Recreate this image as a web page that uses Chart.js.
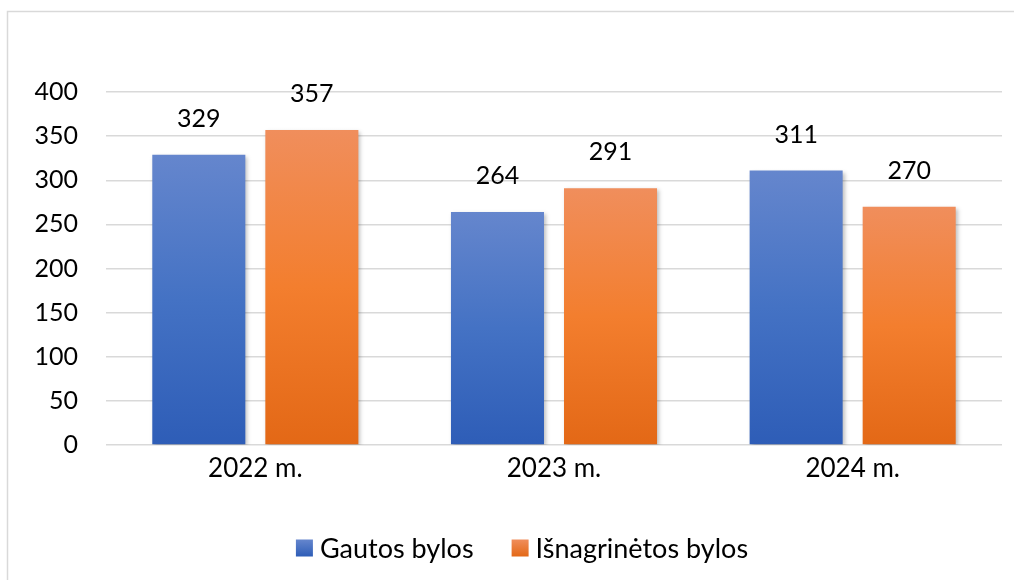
<!DOCTYPE html>
<html><head><meta charset="utf-8">
<script src="https://cdn.jsdelivr.net/npm/chart.js@4/dist/chart.umd.min.js"></script>
<style>html,body{margin:0;padding:0;background:#fff;}#wrap{width:1014px;height:580px;position:relative;}</style>
</head><body><div id="wrap"><canvas id="c" width="1014" height="580"></canvas></div>
<script>
const categories = ["2022 m.", "2023 m.", "2024 m."];
const gautos = [329, 264, 311];
const isnagrinetos = [357, 291, 270];
const seriesNames = ["Gautos bylos", "Išnagrinėtos bylos"];
const yTicks = [0, 50, 100, 150, 200, 250, 300, 350, 400];

const FONT = "Lato, 'Open Sans', sans-serif";
const BLUE = ['#6586cd', '#4472c4', '#2e5db7'];
const ORANGE = ['#f08e5c', '#f37e2e', '#e36816'];

function barGradient(cols) {
  return function(ctx) {
    const chart = ctx.chart;
    const ys = chart.scales && chart.scales.y;
    if (!ys || ctx.raw === undefined) return cols[1];
    const yTop = ys.getPixelForValue(ctx.raw);
    const yBot = ys.getPixelForValue(0);
    if (!isFinite(yTop) || !isFinite(yBot) || yTop === yBot) return cols[1];
    const g = chart.ctx.createLinearGradient(0, yTop, 0, yBot);
    g.addColorStop(0, cols[0]);
    g.addColorStop(0.5, cols[1]);
    g.addColorStop(1, cols[2]);
    return g;
  };
}

const frame = {
  id: 'frame',
  beforeDraw(chart) {
    const c = chart.ctx;
    c.save();
    c.fillStyle = '#fff';
    c.fillRect(0, 0, chart.width, chart.height);
    c.strokeStyle = '#d9d9d9';
    c.lineWidth = 1.5;
    c.beginPath();
    c.moveTo(7.5, 580);
    c.lineTo(7.5, 11.5);
    c.lineTo(1014, 11.5);
    c.stroke();
    c.restore();
  }
};

const shadow = {
  id: 'shadow',
  beforeDatasetsDraw(chart) {
    const c = chart.ctx;
    c.save();
    c.shadowColor = 'rgba(0,0,0,0.25)';
    c.shadowBlur = 4;
    c.shadowOffsetX = 2;
    c.shadowOffsetY = 2;
  },
  afterDatasetsDraw(chart) {
    chart.ctx.restore();
  }
};

const valueLabels = {
  id: 'valueLabels',
  afterDatasetsDraw(chart) {
    const c = chart.ctx;
    c.save();
    c.font = "25px " + FONT;
    c.fillStyle = '#000';
    c.textAlign = 'center';
    c.textBaseline = 'middle';
    chart.data.datasets.forEach((ds, i) => {
      const meta = chart.getDatasetMeta(i);
      meta.data.forEach((bar, j) => {
        c.fillText(String(ds.data[j]), bar.x, bar.y - 36);
      });
    });
    c.restore();
  }
};

const customLegend = {
  id: 'customLegend',
  afterDraw(chart) {
    const c = chart.ctx;
    c.save();
    c.font = "27px " + FONT;
    c.textBaseline = 'middle';
    c.textAlign = 'left';
    const box = 17, gapText = 7, gapItem = 38, cy = 548, centerX = 522;
    const widths = chart.data.datasets.map(ds => box + gapText + c.measureText(ds.label).width);
    const total = widths.reduce((a, b) => a + b, 0) + gapItem * (widths.length - 1);
    let x = centerX - total / 2;
    chart.data.datasets.forEach((ds, i) => {
      const cols = i === 0 ? BLUE : ORANGE;
      const g = c.createLinearGradient(0, cy - box / 2, 0, cy + box / 2);
      g.addColorStop(0, cols[0]);
      g.addColorStop(1, cols[2]);
      c.fillStyle = g;
      c.fillRect(x, cy - box / 2, box, box);
      c.fillStyle = '#000';
      c.fillText(ds.label, x + box + gapText, cy + 1);
      x += widths[i] + gapItem;
    });
    c.restore();
  }
};

new Chart(document.getElementById('c'), {
  type: 'bar',
  data: {
    labels: categories,
    datasets: [
      {
        label: seriesNames[0],
        data: gautos,
        backgroundColor: barGradient(BLUE),
        categoryPercentage: 0.757,
        barPercentage: 0.823
      },
      {
        label: seriesNames[1],
        data: isnagrinetos,
        backgroundColor: barGradient(ORANGE),
        categoryPercentage: 0.757,
        barPercentage: 0.823
      }
    ]
  },
  options: {
    responsive: false,
    animation: false,
    devicePixelRatio: 1,
    layout: { padding: { left: 0, right: 12, top: 92, bottom: 95 } },
    scales: {
      y: {
        min: 0, max: 400,
        afterBuildTicks(scale) { scale.ticks = yTicks.map(v => ({ value: v })); },
        afterFit(scale) { scale.width = 106; },
        grid: { color: '#d9d9d9', lineWidth: 1.5, drawTicks: false },
        border: { display: false },
        ticks: { color: '#000', font: { family: FONT, size: 25 }, padding: 28 }
      },
      x: {
        afterFit(scale) { scale.height = 40; },
        grid: { display: false, drawTicks: false },
        border: { display: false },
        ticks: { color: '#000', font: { family: FONT, size: 26 }, padding: 8 }
      }
    },
    plugins: {
      legend: { display: false },
      tooltip: { enabled: false }
    }
  },
  plugins: [frame, shadow, valueLabels, customLegend]
});
</script></body></html>
